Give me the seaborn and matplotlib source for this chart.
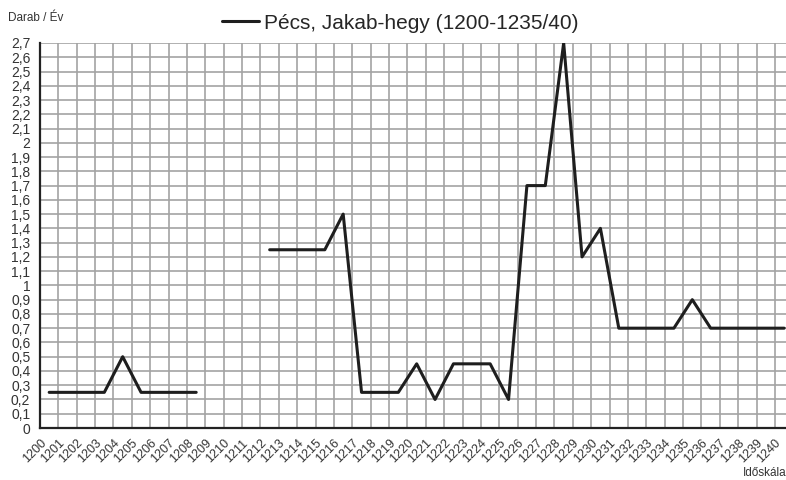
import numpy as np
import pandas as pd
import matplotlib
matplotlib.use('Agg')
import matplotlib.pyplot as plt
import seaborn as sns

# years on the time axis and the yearly counts (NaN = no data)
years = list(range(1200, 1241))
counts = [0.25, 0.25, 0.25, 0.25, 0.5, 0.25, 0.25, 0.25, 0.25,
          np.nan, np.nan, np.nan,
          1.25, 1.25, 1.25, 1.25, 1.5, 0.25, 0.25, 0.25, 0.45, 0.2,
          0.45, 0.45, 0.45, 0.2, 1.7, 1.7, 2.7, 1.2, 1.4, 0.7, 0.7,
          0.7, 0.7, 0.9, 0.7, 0.7, 0.7, 0.7, 0.7]
y_ticks = [round(i * 0.1, 1) for i in range(28)]
series_name = 'Pécs, Jakab-hegy (1200-1235/40)'

sns.set_style('white')
plt.rcParams['font.family'] = ['Liberation Sans', 'DejaVu Sans']

df = pd.DataFrame({'year': years, 'count': counts})
# points sit in the middle of each year cell
df['pos'] = df['year'] - years[0] + 0.5
df['seg'] = df['count'].isna().cumsum()
df = df.dropna()

fig = plt.figure(figsize=(7.86, 4.8), dpi=100)
ax = fig.add_axes([40 / 786, 1 - 428 / 480, 1 - 40 / 786, (428 - 43) / 480])

first = True
for _, part in df.groupby('seg'):
    sns.lineplot(data=part, x='pos', y='count', ax=ax, color='#1e1e1e',
                 linewidth=2.2, label=series_name if first else None, legend=False)
    first = False

ax.set_xlim(0, 40.6)
ax.set_ylim(0, 2.7)
ax.set_xticks(range(len(years)))
ax.set_xticklabels([str(y) for y in years], rotation=45, ha='right',
                   rotation_mode='anchor', fontsize=9, color='#333333')
ax.set_yticks(y_ticks)
ylabels = []
for v in y_ticks:
    s = f'{v:.1f}'.replace('.', ',')
    ylabels.append(s[:-2] if s.endswith(',0') else s)
ax.set_yticklabels(ylabels, fontsize=10, color='#333333')

ax.grid(True, color='#a3a3a3', linewidth=1.2)
ax.set_axisbelow(True)
ax.tick_params(axis='x', direction='inout', length=7, width=1.2, color='#222222', pad=3)
ax.tick_params(axis='y', length=0, pad=7)
for s in ['top', 'right']:
    ax.spines[s].set_visible(False)
for s in ['left', 'bottom']:
    ax.spines[s].set_color('#222222')
    ax.spines[s].set_linewidth(1.6)
ax.set_xlabel('')
ax.set_ylabel('')

handles, labels = ax.get_legend_handles_labels()
fig.legend(handles, labels, loc='center', bbox_to_anchor=(0.509, 0.952),
           frameon=False, fontsize=15, handlelength=1.8, handletextpad=0.2)

fig.text(8 / 786, 1 - 18 / 480, 'Darab / Év', fontsize=8.5, color='#333333', va='center')
fig.text(1.0, 1 - 473 / 480, 'Időskála', fontsize=8.5, color='#333333', va='center', ha='right')

fig.savefig('out.png', dpi=100)
